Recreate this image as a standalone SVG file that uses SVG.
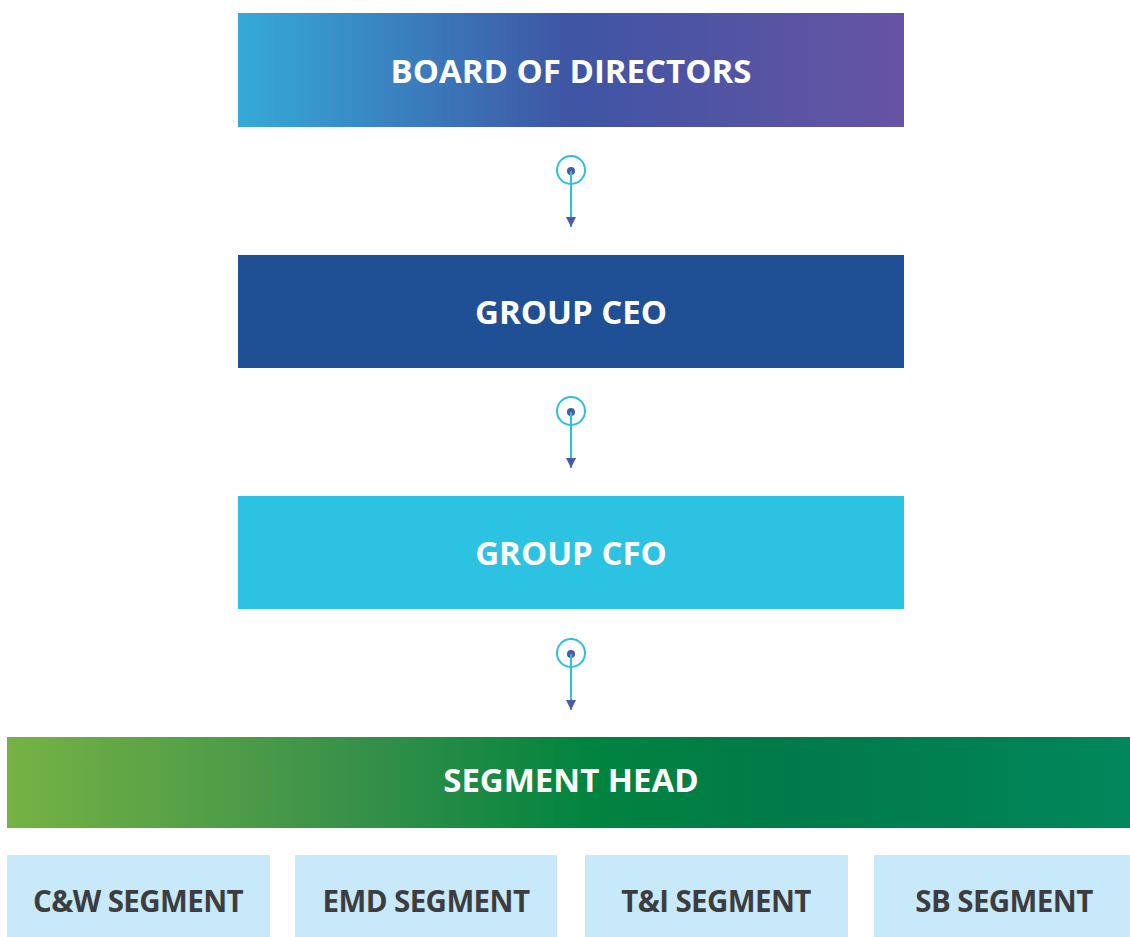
<svg xmlns="http://www.w3.org/2000/svg" width="1130" height="937" viewBox="0 0 1130 937">
<defs>
<linearGradient id="gBoard" x1="0" y1="0" x2="1" y2="0">
<stop offset="0" stop-color="#35aad7"/>
<stop offset="0.5" stop-color="#3e55a4"/>
<stop offset="1" stop-color="#6753a3"/>
</linearGradient>
<linearGradient id="gHead" x1="0" y1="0" x2="1" y2="0">
<stop offset="0" stop-color="#76b244"/>
<stop offset="0.3" stop-color="#3a9149"/>
<stop offset="0.52" stop-color="#00843f"/>
<stop offset="0.7" stop-color="#007a4a"/>
<stop offset="1" stop-color="#00875b"/>
</linearGradient>
<marker id="arr" viewBox="0 0 10 10" refX="10" refY="5" markerWidth="10" markerHeight="10" markerUnits="userSpaceOnUse" orient="auto">
<path d="M0,0 L10,5 L0,10 Z" fill="#4a5aa8"/>
</marker>
<style>
.t{font-family:"Open Sans","Liberation Sans",sans-serif;font-weight:700;font-size:33px;text-anchor:middle;fill:#ffffff}
.s{font-family:"Open Sans","Liberation Sans",sans-serif;font-weight:700;font-size:29.5px;text-anchor:middle;fill:#3d3d40;letter-spacing:-0.6px}
.ring{fill:none;stroke:#2bbfe0;stroke-width:2}
.dot{fill:#4a5aa8}
.ln{stroke:#2bbfe0;stroke-width:2;fill:none}
.seg{fill:#c7e9f9}
</style>
</defs>
<g id="board">
<rect x="238" y="13" width="666" height="114" fill="url(#gBoard)"/>
<text class="t" x="571" y="83">BOARD OF DIRECTORS</text>
</g>
<g id="ceo">
<rect x="238" y="255" width="666" height="113" fill="#1f5096"/>
<text class="t" x="571" y="324">GROUP CEO</text>
</g>
<g id="cfo">
<rect x="238" y="496" width="666" height="113" fill="#2cc2e2"/>
<text class="t" x="571" y="565">GROUP CFO</text>
</g>
<g id="segment-head">
<rect x="7" y="737" width="1123" height="91" fill="url(#gHead)"/>
<text class="t" x="571" y="792">SEGMENT HEAD</text>
</g>
<g id="cw">
<rect class="seg" x="7" y="855" width="263" height="82"/>
<text class="s" x="138" y="912">C&amp;W SEGMENT</text>
</g>
<g id="emd">
<rect class="seg" x="295" y="855" width="262" height="82"/>
<text class="s" x="426" y="912">EMD SEGMENT</text>
</g>
<g id="ti">
<rect class="seg" x="585" y="855" width="263" height="82"/>
<text class="s" x="716" y="912">T&amp;I SEGMENT</text>
</g>
<g id="sb">
<rect class="seg" x="874" y="855" width="256" height="82"/>
<text class="s" x="1004" y="912">SB SEGMENT</text>
</g>
<g id="connectors">
<circle class="ring" cx="571" cy="170" r="14"/>
<circle class="dot" cx="571" cy="171" r="4"/>
<line class="ln" x1="571" y1="171" x2="571" y2="227" marker-end="url(#arr)"/>
<circle class="ring" cx="571" cy="411" r="14"/>
<circle class="dot" cx="571" cy="412" r="4"/>
<line class="ln" x1="571" y1="412" x2="571" y2="468" marker-end="url(#arr)"/>
<circle class="ring" cx="571" cy="653" r="14"/>
<circle class="dot" cx="571" cy="654" r="4"/>
<line class="ln" x1="571" y1="654" x2="571" y2="710" marker-end="url(#arr)"/>
</g>
</svg>
